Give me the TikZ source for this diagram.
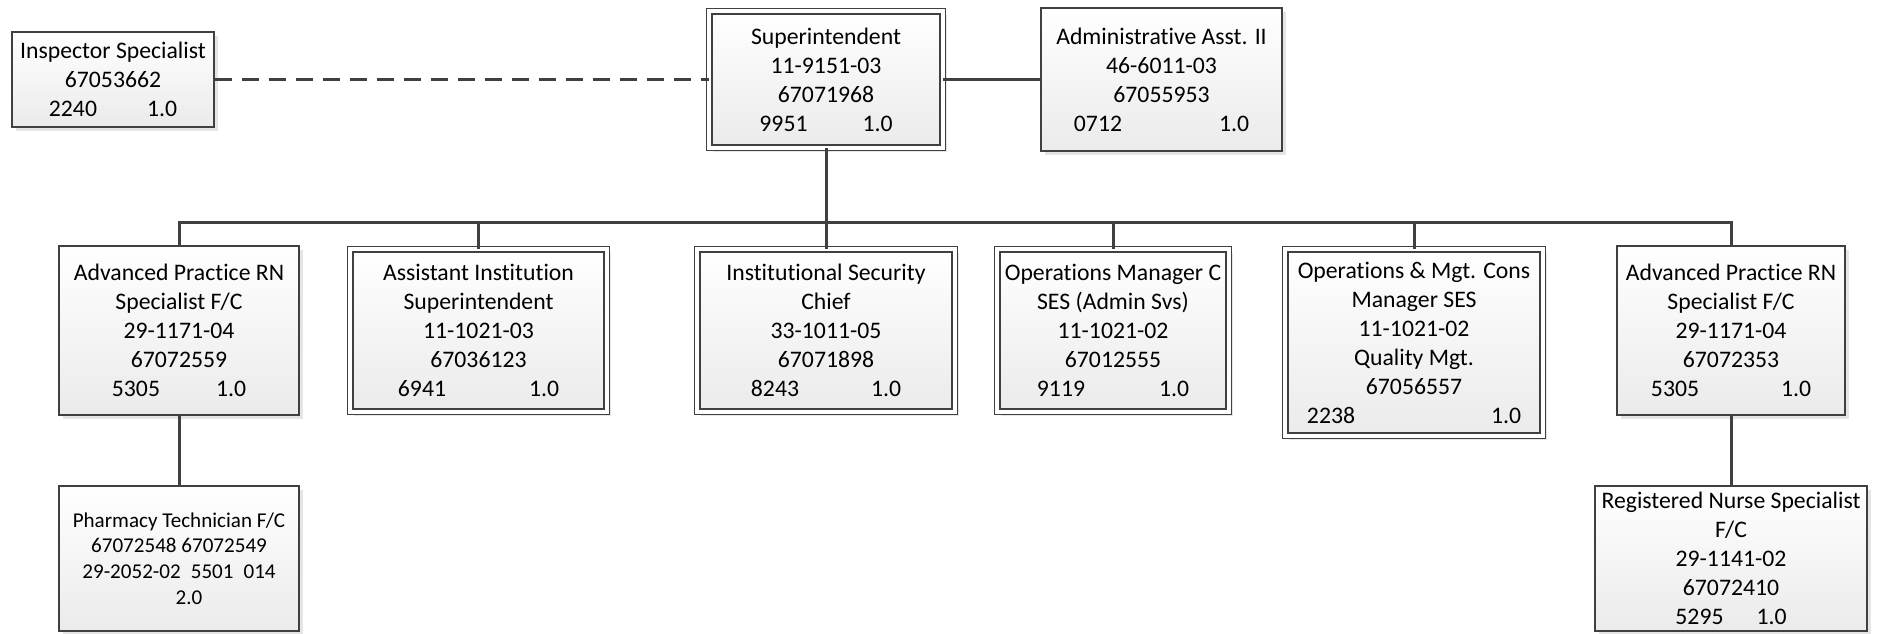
\documentclass[tikz,border=0pt]{standalone}
\usepackage{fontspec}
\setmainfont[Ligatures={NoCommon,NoContextual}]{Carlito}
\usetikzlibrary{shadows}
\definecolor{linegray}{HTML}{404040}
\tikzset{
  post/.style={draw=linegray, line width=0.026cm, top color=white, bottom color=black!8,
    align=center, inner sep=0pt, font=\fontsize{13.5}{16.5}\selectfont,
    drop shadow={shadow xshift=0.08cm, shadow yshift=-0.08cm, fill=black!10, opacity=1}},
  dpost/.style={post, double=white, double distance=0.08cm},
  link/.style={draw=linegray, line width=0.06cm},
}
\begin{document}
\begin{tikzpicture}[x=0.02cm, y=-0.02cm]
  \useasboundingbox (0,0) rectangle (1885,634);

  \node[post, minimum width=4.04cm, minimum height=1.9cm] (insp) at (113,79.5)
    {Inspector Specialist\\67053662\\2240\hspace{1cm}1.0};
  \node[dpost, minimum width=4.67cm, minimum height=2.73cm] (supt) at (826,79.5)
    {Superintendent\\11-9151-03\\67071968\\9951\hspace{1.1cm}1.0};
  \node[post, minimum width=4.82cm, minimum height=2.86cm] (admin) at (1161.5,79.5)
    {Administrative Asst. II\\46-6011-03\\67055953\\0712\hspace{1.94cm}1.0};

  \node[post, minimum width=4.8cm, minimum height=3.38cm] (aprnA) at (179,330.5)
    {Advanced Practice RN\\Specialist F/C\\29-1171-04\\67072559\\5305\hspace{1.12cm}1.0};
  \node[dpost, minimum width=5.13cm, minimum height=3.25cm] (asst) at (478.5,330.5)
    {Assistant Institution\\Superintendent\\11-1021-03\\67036123\\6941\hspace{1.66cm}1.0};
  \node[dpost, minimum width=5.15cm, minimum height=3.25cm] (sec) at (826,330.5)
    {Institutional Security\\Chief\\33-1011-05\\67071898\\8243\hspace{1.44cm}1.0};
  \node[dpost, minimum width=4.63cm, minimum height=3.25cm] (opsC) at (1113,330.5)
    {Operations Manager C\\SES (Admin Svs)\\11-1021-02\\67012555\\9119\hspace{1.48cm}1.0};
  \node[dpost, minimum width=5.15cm, minimum height=3.73cm] (opsQ) at (1414,342.5)
    {Operations \& Mgt. Cons\\Manager SES\\11-1021-02\\Quality Mgt.\\67056557\\2238\hspace{2.72cm}1.0};
  \node[post, minimum width=4.56cm, minimum height=3.38cm] (aprnB) at (1731,330.5)
    {Advanced Practice RN\\Specialist F/C\\29-1171-04\\67072353\\5305\hspace{1.64cm}1.0};

  \node[post, minimum width=4.8cm, minimum height=2.9cm, font=\fontsize{12}{14.6}\selectfont] (pharm) at (179,558.5)
    {Pharmacy Technician F/C\\67072548 67072549\\29-2052-02\hspace{0.2cm}5501\hspace{0.2cm}014\\\hspace*{0.4cm}2.0};
  \node[post, minimum width=5.44cm, minimum height=2.9cm] (rn) at (1731,558.5)
    {Registered Nurse Specialist\\F/C\\29-1141-02\\67072410\\5295\hspace{0.66cm}1.0};

  \draw[link, dash pattern=on 0.34cm off 0.2cm] (insp) -- (supt);
  \draw[link] (supt) -- (admin);
  \coordinate (bus) at (826,223);
  \foreach \n in {aprnA,asst,sec,opsC,opsQ,aprnB}
    \draw[link] (supt.south) -- (bus) -| (\n.north);
  \draw[link] (aprnA) -- (pharm);
  \draw[link] (aprnB) -- (rn);
\end{tikzpicture}
\end{document}
